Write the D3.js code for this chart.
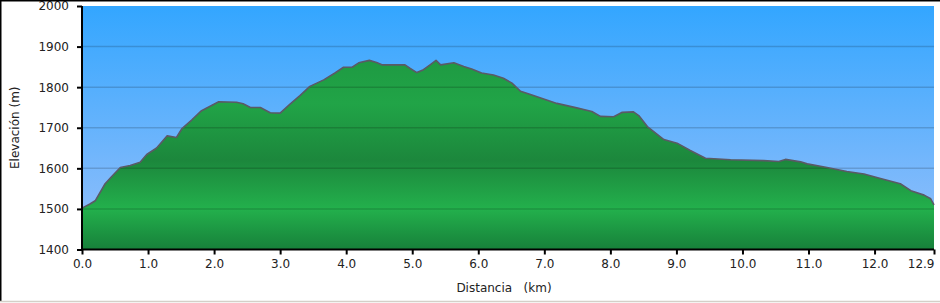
<!doctype html>
<html lang="es">
<head>
<meta charset="UTF-8">
<title>Perfil</title>
<script src="https://d3js.org/d3.v7.min.js"></script>
<style>
  body { margin: 0; background: #fff; }
  svg { display: block; }
  text { font-family: "DejaVu Sans", Verdana, sans-serif; font-size: 12px; fill: #222; }
</style>
</head>
<body>
<svg id="chart" width="940" height="303"></svg>
<script>
// distance along the track (km) and elevation (m)
const distKm = [0, 0.12, 0.2, 0.35, 0.45, 0.58, 0.73, 0.88, 0.98, 1.13, 1.29, 1.43, 1.51, 1.66, 1.81,
  2.07, 2.34, 2.44, 2.55, 2.7, 2.85, 3.0, 3.15, 3.3, 3.45, 3.66, 3.83, 3.96, 4.09, 4.19, 4.35,
  4.46, 4.54, 4.77, 4.89, 4.97, 5.07, 5.17, 5.27, 5.36, 5.43, 5.63, 5.78, 5.9, 6.05, 6.23, 6.38,
  6.51, 6.64, 6.79, 6.99, 7.19, 7.49, 7.72, 7.85, 8.05, 8.18, 8.35, 8.43, 8.56, 8.81, 9.01, 9.21,
  9.44, 9.82, 10.32, 10.55, 10.65, 10.88, 10.98, 11.28, 11.58, 11.84, 12.09, 12.39, 12.55, 12.75,
  12.85, 12.9];
const elevM = [1502, 1512, 1520, 1562, 1580, 1602, 1607, 1615, 1634, 1650, 1680, 1676, 1697, 1719, 1742,
  1764, 1763, 1759, 1750, 1750, 1737, 1736, 1758, 1779, 1802, 1818, 1835, 1849, 1849, 1860, 1866,
  1861, 1855, 1855, 1855, 1846, 1836, 1843, 1855, 1866, 1855, 1860, 1851, 1845, 1835, 1830, 1822,
  1810, 1790, 1782, 1771, 1760, 1749, 1740, 1728, 1727, 1738, 1739, 1730, 1703, 1671, 1662, 1644,
  1625, 1621, 1619, 1617, 1622, 1616, 1611, 1602, 1592, 1586, 1575, 1562, 1545, 1534,
  1525, 1510];
const xTicks = [0, 1, 2, 3, 4, 5, 6, 7, 8, 9, 10, 11, 12, 12.9];
const yTicks = [1400, 1500, 1600, 1700, 1800, 1900, 2000];
const gridLines = [1500, 1600, 1700, 1800, 1900];

const data = distKm.map((d, i) => ({ d: d, e: elevM[i] }));

const svg = d3.select('#chart');
const plotLeft = 82, plotRight = 934, plotTop = 6, plotBottom = 249.5;

const x = d3.scaleLinear().domain([0, 12.9]).range([plotLeft, plotRight]);
const y = d3.scaleLinear().domain([1400, 2000]).range([plotBottom, plotTop]);

const defs = svg.append('defs');
const sky = defs.append('linearGradient').attr('id', 'sky')
  .attr('x1', 0).attr('y1', 0).attr('x2', 0).attr('y2', 1);
sky.append('stop').attr('offset', '0%').attr('stop-color', '#33a6ff');
sky.append('stop').attr('offset', '100%').attr('stop-color', '#98c0fa');

const ground = defs.append('linearGradient').attr('id', 'ground')
  .attr('gradientUnits', 'userSpaceOnUse')
  .attr('x1', 0).attr('x2', 0).attr('y1', y(1880)).attr('y2', y(1400));
[[1880, '#1e9942'], [1760, '#21a447'], [1620, '#1c873c'], [1500, '#23b04c'], [1400, '#17803a']]
  .forEach(([v, c]) => {
    ground.append('stop')
      .attr('offset', ((1880 - v) / 480 * 100) + '%')
      .attr('stop-color', c);
  });

// sky background
svg.append('rect')
  .attr('x', plotLeft).attr('y', plotTop)
  .attr('width', plotRight - plotLeft).attr('height', plotBottom - plotTop)
  .attr('fill', 'url(#sky)');

const area = d3.area()
  .x(p => x(p.d))
  .y0(y(1400))
  .y1(p => y(p.e));
const line = d3.line()
  .x(p => x(p.d))
  .y(p => y(p.e));

svg.append('path')
  .datum(data)
  .attr('d', area)
  .attr('fill', 'url(#ground)');

// horizontal grid
svg.append('g')
  .selectAll('line')
  .data(gridLines)
  .join('line')
  .attr('x1', plotLeft).attr('x2', plotRight)
  .attr('y1', v => y(v)).attr('y2', v => y(v))
  .attr('stroke', '#000')
  .attr('stroke-opacity', 0.16)
  .attr('stroke-width', 1.5);

svg.append('path')
  .datum(data)
  .attr('d', line)
  .attr('fill', 'none')
  .attr('stroke', '#5a5a66')
  .attr('stroke-width', 1.6)
  .attr('stroke-linejoin', 'round');

// axes
const xAxis = svg.append('g')
  .attr('transform', `translate(0, ${plotBottom})`)
  .call(d3.axisBottom(x).tickValues(xTicks).tickFormat(d3.format('.1f')).tickSize(5).tickPadding(5));
const yAxis = svg.append('g')
  .attr('transform', `translate(${plotLeft}, 0)`)
  .call(d3.axisLeft(y).tickValues(yTicks).tickFormat(d3.format('d')).tickSize(5).tickPadding(8));

[xAxis, yAxis].forEach(g => {
  g.select('.domain').attr('stroke', '#000').attr('stroke-width', 2);
  g.selectAll('.tick line').attr('stroke', '#000').attr('stroke-width', 2);
  g.selectAll('text').attr('font-family', '"DejaVu Sans", Verdana, sans-serif')
    .attr('font-size', 12).attr('fill', '#222');
});
xAxis.select('.domain').attr('d', `M${plotLeft},0H${plotRight}`);
yAxis.select('.domain').attr('d', `M0,${plotTop}V${plotBottom}`);
// last label sits left of its tick so it stays inside the frame
xAxis.selectAll('.tick text')
  .filter(d => d === 12.9)
  .attr('text-anchor', 'end')
  .attr('dx', 0);

// axis titles
svg.append('text')
  .attr('x', 504).attr('y', 292)
  .attr('text-anchor', 'middle')
  .style('white-space', 'pre')
  .text('Distancia   (km)');
svg.append('text')
  .attr('transform', `translate(19, ${(plotTop + plotBottom) / 2}) rotate(-90)`)
  .attr('text-anchor', 'middle')
  .text('Elevación (m)');

// frame
svg.append('line').attr('x1', 0.75).attr('x2', 0.75).attr('y1', 0).attr('y2', 302)
  .attr('stroke', '#000').attr('stroke-width', 1.5);
svg.append('line').attr('x1', 0).attr('x2', 940).attr('y1', 0.75).attr('y2', 0.75)
  .attr('stroke', '#000').attr('stroke-width', 1.5);
svg.append('line').attr('x1', 0).attr('x2', 940).attr('y1', 301.5).attr('y2', 301.5)
  .attr('stroke', '#d4d0c8').attr('stroke-width', 1.5);
</script>
</body>
</html>
